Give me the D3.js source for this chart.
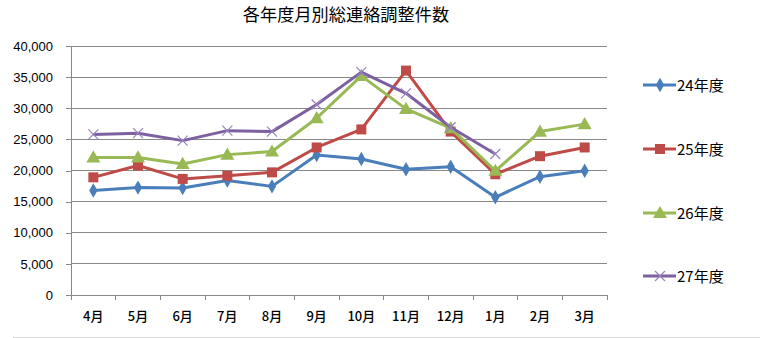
<!DOCTYPE html>
<html>
<head>
<meta charset="utf-8">
<script src="https://cdn.jsdelivr.net/npm/d3@7"></script>
<style>
  html, body { margin: 0; padding: 0; background: #fff; }
  svg { display: block; }
  text { font-family: "Liberation Sans", Arial, "Noto Sans CJK JP", sans-serif; fill: #000; }
  .cjk { font-family: "Noto Sans CJK JP", sans-serif; }
</style>
</head>
<body>
<svg id="chart" width="760" height="338"></svg>
<script>
// 月別の総連絡調整件数（年度別）
const months = ["4月", "5月", "6月", "7月", "8月", "9月", "10月", "11月", "12月", "1月", "2月", "3月"];
const seriesNames = ["24年度", "25年度", "26年度", "27年度"];
const fy24 = [16800, 17250, 17200, 18400, 17450, 22500, 21850, 20200, 20600, 15700, 19000, 19950];
const fy25 = [18900, 20800, 18650, 19150, 19700, 23700, 26600, 36050, 26250, 19400, 22300, 23700];
const fy26 = [22100, 22100, 21050, 22550, 23050, 28400, 35200, 29900, 26800, 19950, 26250, 27450];
const fy27 = [25800, 26000, 24800, 26400, 26250, 30600, 35800, 32400, 26950, 22650, null, null];
const yTicks = [0, 5000, 10000, 15000, 20000, 25000, 30000, 35000, 40000];

const colors = ["#4A7EBB", "#BE4B48", "#98B954", "#7D60A0"];
const markers = ["diamond", "square", "triangle", "times"];
const allSeries = [fy24, fy25, fy26, fy27];

const svg = d3.select("#chart");

const plotL = 71, plotR = 607, plotT = 46, plotB = 295;

const x = d3.scaleBand().domain(months).range([plotL, plotR]).padding(0);
const y = d3.scaleLinear().domain([0, 40000]).range([plotB, plotT]);

// title
svg.append("text")
  .attr("class", "cjk")
  .attr("x", 346).attr("y", 21)
  .attr("text-anchor", "middle")
  .style("font-size", "17.2px")
  .text("各年度月別総連絡調整件数");

// horizontal gridlines
svg.append("g")
  .selectAll("line")
  .data(yTicks.filter(d => d > 0))
  .join("line")
  .attr("x1", plotL).attr("x2", plotR)
  .attr("y1", d => y(d)).attr("y2", d => y(d))
  .attr("stroke", "#888").attr("stroke-width", 1)
  .attr("shape-rendering", "crispEdges");

// y axis
const yAxis = d3.axisLeft(y)
  .tickValues(yTicks)
  .tickSize(5)
  .tickPadding(13)
  .tickFormat(d3.format(","));
const gy = svg.append("g").attr("transform", `translate(${plotL},0)`).call(yAxis);
gy.select(".domain").attr("stroke", "#888").attr("shape-rendering", "crispEdges");
gy.selectAll(".tick line").attr("stroke", "#888").attr("shape-rendering", "crispEdges");
gy.selectAll(".tick text")
  .style("font-size", "13px")
  .style("font-family", "'Liberation Sans', Arial, sans-serif")
  .attr("fill", "#000");

// x axis with tick marks at category boundaries
const gx = svg.append("g").attr("transform", `translate(0,${plotB})`);
gx.append("line")
  .attr("x1", plotL).attr("x2", plotR).attr("y1", 0).attr("y2", 0)
  .attr("stroke", "#888").attr("shape-rendering", "crispEdges");
const boundaries = months.map(m => x(m)).concat([x(months[months.length - 1]) + x.bandwidth()]);
gx.selectAll("line.tk")
  .data(boundaries)
  .join("line")
  .attr("class", "tk")
  .attr("x1", d => d).attr("x2", d => d)
  .attr("y1", 0).attr("y2", 5)
  .attr("stroke", "#888").attr("shape-rendering", "crispEdges");
gx.selectAll("text")
  .data(months)
  .join("text")
  .attr("class", "cjk")
  .attr("x", d => x(d) + x.bandwidth() / 2)
  .attr("y", 26)
  .attr("text-anchor", "middle")
  .style("font-size", "13px")
  .style("font-weight", "500")
  .text(d => d);

// bottom border of chart area
svg.append("line")
  .attr("x1", 13).attr("x2", 760).attr("y1", 337.5).attr("y2", 337.5)
  .attr("stroke", "#d9d9d9").attr("stroke-width", 1);

const cx = m => x(m) + x.bandwidth() / 2;

function drawMarker(g, type, color, px, py) {
  if (type === "diamond") {
    g.append("path").attr("d", d3.symbol().type(d3.symbolDiamond).size(60)())
      .attr("transform", `translate(${px},${py})`).attr("fill", color);
  } else if (type === "square") {
    g.append("path").attr("d", d3.symbol().type(d3.symbolSquare).size(100)())
      .attr("transform", `translate(${px},${py})`).attr("fill", color);
  } else if (type === "triangle") {
    g.append("path").attr("d", d3.symbol().type(d3.symbolTriangle).size(85)())
      .attr("transform", `translate(${px},${py + 1})`).attr("fill", color);
  } else {
    const s = 5;
    g.append("path")
      .attr("d", `M${px - s},${py - s}L${px + s},${py + s}M${px - s},${py + s}L${px + s},${py - s}`)
      .attr("stroke", "#9a84c0").attr("stroke-width", 1.2).attr("fill", "none");
  }
}

const line = d3.line()
  .defined(d => d.v != null)
  .x(d => cx(d.m))
  .y(d => y(d.v));

allSeries.forEach((vals, i) => {
  const pts = months.map((m, j) => ({ m, v: vals[j] }));
  const g = svg.append("g");
  g.append("path")
    .datum(pts)
    .attr("d", line)
    .attr("fill", "none")
    .attr("stroke", colors[i])
    .attr("stroke-width", 3)
    .attr("stroke-linejoin", "round");
  pts.filter(p => p.v != null).forEach(p => drawMarker(g, markers[i], colors[i], cx(p.m), y(p.v)));
});

// legend
const legendY = [85, 149, 213, 276];
seriesNames.forEach((name, i) => {
  const g = svg.append("g");
  g.append("line")
    .attr("x1", 643).attr("x2", 676).attr("y1", legendY[i]).attr("y2", legendY[i])
    .attr("stroke", colors[i]).attr("stroke-width", 3);
  drawMarker(g, markers[i], colors[i], 660, legendY[i]);
  g.append("text")
    .attr("class", "cjk")
    .attr("x", 677).attr("y", legendY[i] + 5.5)
    .style("font-size", "15px")
    .text(name);
});
</script>
</body>
</html>
